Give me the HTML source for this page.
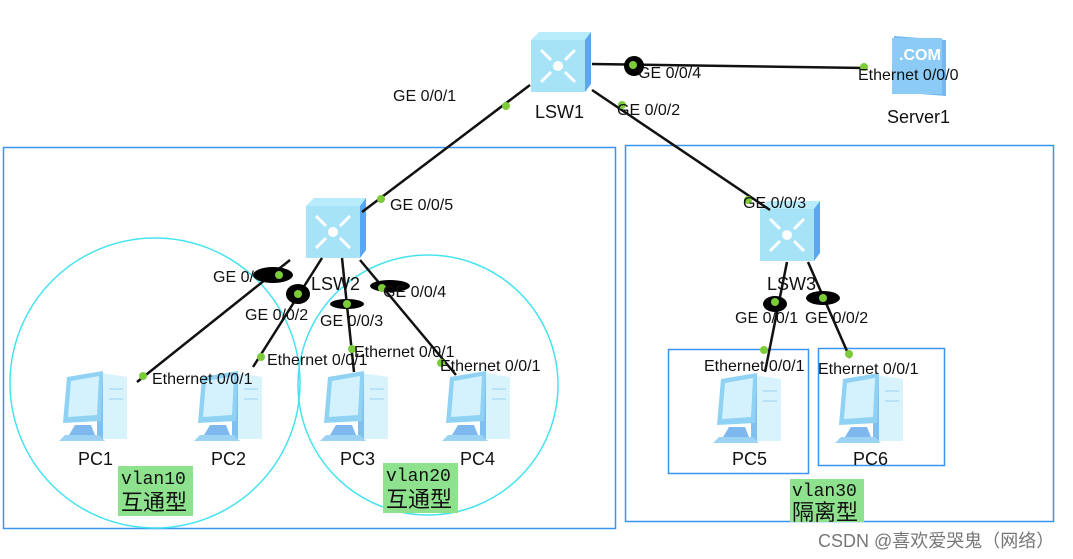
<!DOCTYPE html>
<html><head><meta charset="utf-8"><style>
html,body{margin:0;padding:0;background:#fff;width:1073px;height:559px;overflow:hidden}
svg{display:block}
text{font-family:"Liberation Sans","Noto Sans CJK SC",sans-serif;font-size:16px;fill:#111}
.d{font-size:18px}
.m{font-family:"Liberation Mono","DejaVu Sans Mono",monospace;font-size:18px}
.c{font-family:"Liberation Sans","Noto Sans CJK SC",sans-serif;font-size:22px}
</style></head><body>
<svg width="1073" height="559" viewBox="0 0 1073 559">
<defs>
<g id="sw">
<polygon points="4,8 12,0 64,0 58,8" fill="#b9ecfb"/>
<polygon points="58,8 64,0 64,52 58,60" fill="#5aa6f0"/>
<rect x="4" y="8" width="54" height="52" fill="#a7e3f7"/>
<g stroke="#fff" stroke-width="3" fill="none">
<path d="M14,18 L24,28 M48,18 L38,28 M14,50 L24,40 M48,50 L38,40"/>
</g>
<circle cx="31" cy="34" r="5" fill="#fff"/>
</g>
<g id="pc">
<polygon points="44,4 70,8 70,70 44,70" fill="#d9f3fd"/>
<polygon points="40,4 46,4 46,70 40,72" fill="#7fc0f0"/>
<polygon points="10,8 46,2 44,52 6,54" fill="#8fd2f4"/>
<polygon points="14,12 42,7 40,46 11,48" fill="#d4f2fd"/>
<polygon points="18,56 34,56 38,66 12,66" fill="#7fb8ee"/>
<polygon points="8,66 42,66 48,72 2,72" fill="#9cd3f5"/>
<line x1="52" y1="20" x2="66" y2="20" stroke="#9bd1f1"/>
<line x1="52" y1="30" x2="66" y2="30" stroke="#9bd1f1"/>
</g>
</defs>

<rect x="3.5" y="147.5" width="612" height="381" fill="none" stroke="#3b95f0" stroke-width="1.5"/>
<rect x="625.5" y="145.5" width="428" height="376" fill="none" stroke="#3b95f0" stroke-width="1.5"/>
<circle cx="155" cy="383" r="145" fill="none" stroke="#45e3f0" stroke-width="1.5"/>
<circle cx="428" cy="385" r="130" fill="none" stroke="#45e3f0" stroke-width="1.5"/>
<rect x="668.5" y="349.5" width="140" height="124" fill="none" stroke="#3b95f0" stroke-width="1.5"/>
<rect x="818.5" y="348.5" width="126" height="117" fill="none" stroke="#3b95f0" stroke-width="1.5"/>

<use href="#sw" x="527" y="32"/>
<use href="#sw" x="302" y="198"/>
<use href="#sw" x="756" y="201"/>
<g>
<polygon points="894,36 946,40 946,96 894,92" fill="#72b8f2"/>
<rect x="892" y="38" width="50" height="56" fill="#8ccbf6"/>
<text x="899" y="60" style="font-size:16px;font-weight:bold;fill:#fff">.COM</text>
</g>
<use href="#pc" x="57" y="369"/>
<use href="#pc" x="192" y="369"/>
<use href="#pc" x="318" y="369"/>
<use href="#pc" x="440" y="369"/>
<use href="#pc" x="711" y="371"/>
<use href="#pc" x="833" y="371"/>

<g stroke="#111" stroke-width="2.5">
<line x1="592" y1="64" x2="865" y2="68"/>
<line x1="530" y1="85" x2="362" y2="212"/>
<line x1="592" y1="90" x2="770" y2="210"/>
<line x1="290" y1="260" x2="137" y2="382"/>
<line x1="322" y1="258" x2="253" y2="367"/>
<line x1="342" y1="258" x2="354" y2="372"/>
<line x1="360" y1="260" x2="456" y2="375"/>
<line x1="787" y1="262" x2="765" y2="372"/>
<line x1="808" y1="262" x2="850" y2="358"/>
</g>
<g fill="#000">
<circle cx="634" cy="66" r="10"/>
<ellipse cx="273" cy="275" rx="20" ry="8"/>
<ellipse cx="298" cy="294" rx="12" ry="10"/>
<ellipse cx="347" cy="304" rx="17" ry="5"/>
<ellipse cx="390" cy="286" rx="20" ry="6"/>
<ellipse cx="775" cy="304" rx="12" ry="8"/>
<ellipse cx="823" cy="298" rx="17" ry="7"/>
</g>
<g fill="#7ccc3a">
<circle cx="633" cy="65" r="4"/><circle cx="864" cy="67" r="4"/>
<circle cx="506" cy="106" r="4"/><circle cx="381" cy="199" r="4"/>
<circle cx="622" cy="105" r="4"/><circle cx="748" cy="200" r="4"/>
<circle cx="279" cy="275" r="4"/><circle cx="298" cy="294" r="4"/>
<circle cx="347" cy="304" r="4"/><circle cx="382" cy="288" r="4"/>
<circle cx="143" cy="376" r="4"/><circle cx="261" cy="357" r="4"/>
<circle cx="352" cy="349" r="4"/><circle cx="441" cy="363" r="4"/>
<circle cx="775" cy="302" r="4"/><circle cx="823" cy="298" r="4"/>
<circle cx="764" cy="350" r="4"/><circle cx="849" cy="354" r="4"/>
</g>

<text x="638" y="78">GE 0/0/4</text>
<text x="858" y="80">Ethernet 0/0/0</text>
<text x="887" y="123" class="d">Server1</text>
<text x="535" y="118" class="d">LSW1</text>
<text x="393" y="101">GE 0/0/1</text>
<text x="617" y="115">GE 0/0/2</text>
<text x="390" y="210">GE 0/0/5</text>
<text x="743" y="208">GE 0/0/3</text>
<text x="311" y="290" class="d">LSW2</text>
<text x="767" y="290" class="d">LSW3</text>
<text x="213" y="282">GE 0/</text>
<text x="245" y="320">GE 0/0/2</text>
<text x="320" y="326">GE 0/0/3</text>
<text x="383" y="297">GE 0/0/4</text>
<text x="735" y="323">GE 0/0/1</text>
<text x="805" y="323">GE 0/0/2</text>
<text x="152" y="384">Ethernet 0/0/1</text>
<text x="267" y="365">Ethernet 0/0/1</text>
<text x="354" y="357">Ethernet 0/0/1</text>
<text x="440" y="371">Ethernet 0/0/1</text>
<text x="704" y="371">Ethernet 0/0/1</text>
<text x="818" y="374">Ethernet 0/0/1</text>
<text x="78" y="465" class="d">PC1</text>
<text x="211" y="465" class="d">PC2</text>
<text x="340" y="465" class="d">PC3</text>
<text x="460" y="465" class="d">PC4</text>
<text x="732" y="465" class="d">PC5</text>
<text x="853" y="465" class="d">PC6</text>

<rect x="118" y="466" width="75" height="50" fill="#8ee28e"/>
<text x="121" y="484" class="m">vlan10</text>
<text x="121" y="510" class="c">互通型</text>
<rect x="383" y="463" width="75" height="50" fill="#8ee28e"/>
<text x="386" y="481" class="m">vlan20</text>
<text x="386" y="507" class="c">互通型</text>
<rect x="790" y="479" width="74" height="43" fill="#8ee28e"/>
<text x="792" y="496" class="m">vlan30</text>
<text x="792" y="520" class="c">隔离型</text>

<text x="818" y="547" style="font-size:18px;fill:#777">CSDN @喜欢爱哭鬼（网络）</text>
</svg>
</body></html>
